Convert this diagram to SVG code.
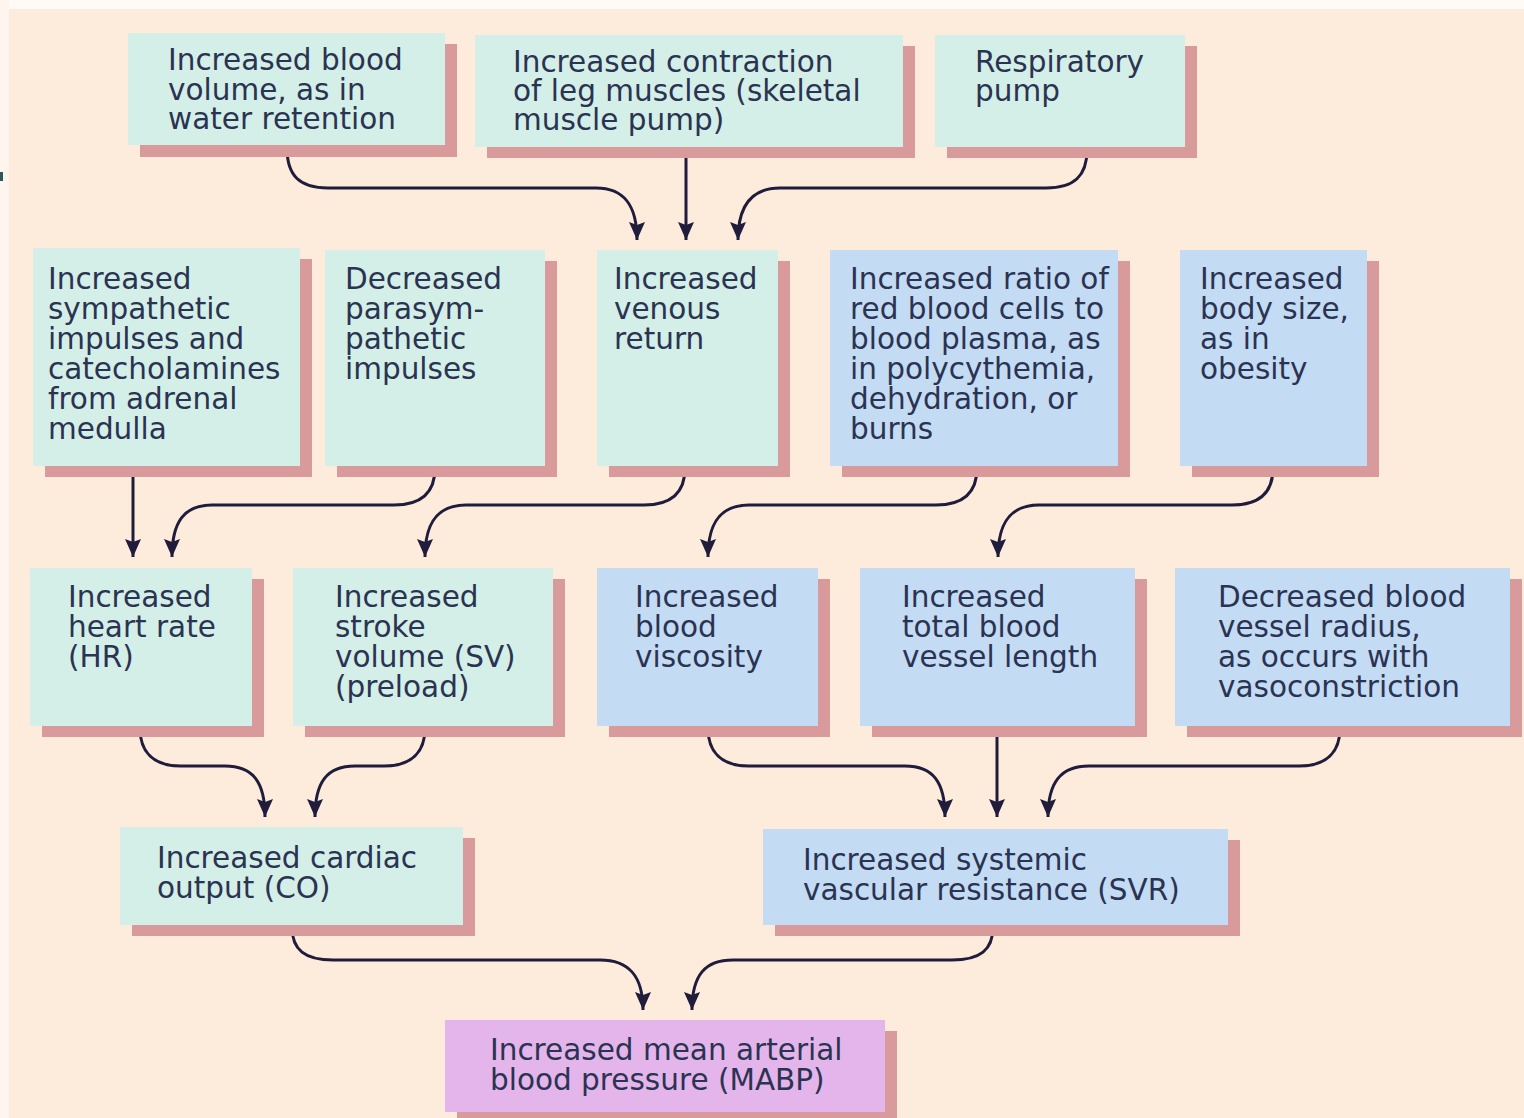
<svg xmlns="http://www.w3.org/2000/svg" width="1524" height="1118" viewBox="0 0 1524 1118">
<style>
.bg{fill:#fdebdc}
.sh{fill:#d99a9c}
.g{fill:#d4efe7}
.b{fill:#c4dbf4}
.p{fill:#e4b5ea}
text{font-family:"DejaVu Sans","Liberation Sans",Arial,sans-serif;font-size:29.5px;fill:#2b3352}
.c{fill:none;stroke:#1f1c3c;stroke-width:3}
</style>
<defs>
<marker id="ah" viewBox="0 0 18 16" refX="18" refY="8" markerWidth="18" markerHeight="16" markerUnits="userSpaceOnUse" orient="auto">
<path d="M0,0 L18,8 L0,16 L3,8 Z" fill="#1f1c3c"/>
</marker>
</defs>
<rect class="bg" x="0" y="0" width="1524" height="1118"/>
<rect x="0" y="0" width="1524" height="9" fill="#fefaf6"/>
<rect x="0" y="0" width="9" height="1118" fill="#fdf5ee"/>
<rect x="0" y="172" width="3" height="9" fill="#2e5a5e"/>

<g id="connectors">
<path class="c" marker-end="url(#ah)" d="M287,148 C287,176 300,188 328,188 L596,188 C624,188 637,205 637,240"/>
<path class="c" marker-end="url(#ah)" d="M686,150 L686,240"/>
<path class="c" marker-end="url(#ah)" d="M1087,150 C1087,176 1074,188 1046,188 L780,188 C752,188 738,205 738,240"/>
<path class="c" marker-end="url(#ah)" d="M133,468 L133,557"/>
<path class="c" marker-end="url(#ah)" d="M435,468 C435,492 422,505 394,505 L212,505 C184,505 172,522 172,557"/>
<path class="c" marker-end="url(#ah)" d="M685,468 C685,492 672,505 644,505 L466,505 C438,505 425,522 425,557"/>
<path class="c" marker-end="url(#ah)" d="M977,468 C977,492 964,505 936,505 L749,505 C721,505 708,522 708,557"/>
<path class="c" marker-end="url(#ah)" d="M1273,468 C1273,492 1260,505 1232,505 L1039,505 C1011,505 998,522 998,557"/>
<path class="c" marker-end="url(#ah)" d="M140,728 C140,752 153,766 181,766 L225,766 C253,766 265,782 265,817"/>
<path class="c" marker-end="url(#ah)" d="M425,728 C425,752 412,766 384,766 L355,766 C327,766 315,782 315,817"/>
<path class="c" marker-end="url(#ah)" d="M708,728 C708,752 721,766 749,766 L905,766 C933,766 945,782 945,817"/>
<path class="c" marker-end="url(#ah)" d="M997,728 L997,817"/>
<path class="c" marker-end="url(#ah)" d="M1340,728 C1340,752 1327,766 1299,766 L1089,766 C1061,766 1048,782 1048,817"/>
<path class="c" marker-end="url(#ah)" d="M292,927 C292,950 305,960 333,960 L600,960 C628,960 643,975 643,1010"/>
<path class="c" marker-end="url(#ah)" d="M993,927 C993,950 980,960 952,960 L733,960 C705,960 692,975 692,1010"/>
</g>

<g id="blood-volume">
<rect class="sh" x="140" y="44" width="317" height="113"/>
<rect class="g" x="128" y="33" width="317" height="112"/>
<text x="168" y="70">Increased blood</text>
<text x="168" y="100">volume, as in</text>
<text x="168" y="129">water retention</text>
</g>
<g id="skeletal-pump">
<rect class="sh" x="487" y="46" width="428" height="112"/>
<rect class="g" x="475" y="35" width="428" height="112"/>
<text x="513" y="72">Increased contraction</text>
<text x="513" y="101">of leg muscles (skeletal</text>
<text x="513" y="130">muscle pump)</text>
</g>
<g id="respiratory-pump">
<rect class="sh" x="947" y="46" width="250" height="112"/>
<rect class="g" x="935" y="35" width="250" height="112"/>
<text x="975" y="72">Respiratory</text>
<text x="975" y="101">pump</text>
</g>

<g id="sympathetic">
<rect class="sh" x="45" y="259" width="267" height="218"/>
<rect class="g" x="33" y="248" width="267" height="218"/>
<text x="48" y="289">Increased</text>
<text x="48" y="319">sympathetic</text>
<text x="48" y="349">impulses and</text>
<text x="48" y="379">catecholamines</text>
<text x="48" y="409">from adrenal</text>
<text x="48" y="439">medulla</text>
</g>
<g id="parasympathetic">
<rect class="sh" x="337" y="261" width="220" height="216"/>
<rect class="g" x="325" y="250" width="220" height="216"/>
<text x="345" y="289">Decreased</text>
<text x="345" y="319">parasym-</text>
<text x="345" y="349">pathetic</text>
<text x="345" y="379">impulses</text>
</g>
<g id="venous-return">
<rect class="sh" x="609" y="261" width="181" height="216"/>
<rect class="g" x="597" y="250" width="181" height="216"/>
<text x="614" y="289">Increased</text>
<text x="614" y="319">venous</text>
<text x="614" y="349">return</text>
</g>
<g id="rbc-ratio">
<rect class="sh" x="842" y="261" width="288" height="216"/>
<rect class="b" x="830" y="250" width="288" height="216"/>
<text x="850" y="289">Increased ratio of</text>
<text x="850" y="319">red blood cells to</text>
<text x="850" y="349">blood plasma, as</text>
<text x="850" y="379">in polycythemia,</text>
<text x="850" y="409">dehydration, or</text>
<text x="850" y="439">burns</text>
</g>
<g id="body-size">
<rect class="sh" x="1192" y="261" width="187" height="216"/>
<rect class="b" x="1180" y="250" width="187" height="216"/>
<text x="1200" y="289">Increased</text>
<text x="1200" y="319">body size,</text>
<text x="1200" y="349">as in</text>
<text x="1200" y="379">obesity</text>
</g>

<g id="heart-rate">
<rect class="sh" x="42" y="579" width="222" height="158"/>
<rect class="g" x="30" y="568" width="222" height="158"/>
<text x="68" y="607">Increased</text>
<text x="68" y="637">heart rate</text>
<text x="68" y="667">(HR)</text>
</g>
<g id="stroke-volume">
<rect class="sh" x="305" y="579" width="260" height="158"/>
<rect class="g" x="293" y="568" width="260" height="158"/>
<text x="335" y="607">Increased</text>
<text x="335" y="637">stroke</text>
<text x="335" y="667">volume (SV)</text>
<text x="335" y="697">(preload)</text>
</g>
<g id="viscosity">
<rect class="sh" x="609" y="579" width="221" height="158"/>
<rect class="b" x="597" y="568" width="221" height="158"/>
<text x="635" y="607">Increased</text>
<text x="635" y="637">blood</text>
<text x="635" y="667">viscosity</text>
</g>
<g id="vessel-length">
<rect class="sh" x="872" y="579" width="275" height="158"/>
<rect class="b" x="860" y="568" width="275" height="158"/>
<text x="902" y="607">Increased</text>
<text x="902" y="637">total blood</text>
<text x="902" y="667">vessel length</text>
</g>
<g id="vessel-radius">
<rect class="sh" x="1187" y="579" width="335" height="158"/>
<rect class="b" x="1175" y="568" width="335" height="158"/>
<text x="1218" y="607">Decreased blood</text>
<text x="1218" y="637">vessel radius,</text>
<text x="1218" y="667">as occurs with</text>
<text x="1218" y="697">vasoconstriction</text>
</g>

<g id="cardiac-output">
<rect class="sh" x="132" y="838" width="343" height="98"/>
<rect class="g" x="120" y="827" width="343" height="98"/>
<text x="157" y="868">Increased cardiac</text>
<text x="157" y="898">output (CO)</text>
</g>
<g id="svr">
<rect class="sh" x="775" y="840" width="465" height="96"/>
<rect class="b" x="763" y="829" width="465" height="96"/>
<text x="803" y="870">Increased systemic</text>
<text x="803" y="900">vascular resistance (SVR)</text>
</g>

<g id="mabp">
<rect class="sh" x="457" y="1031" width="440" height="92"/>
<rect class="p" x="445" y="1020" width="440" height="92"/>
<text x="490" y="1060">Increased mean arterial</text>
<text x="490" y="1090">blood pressure (MABP)</text>
</g>
</svg>
